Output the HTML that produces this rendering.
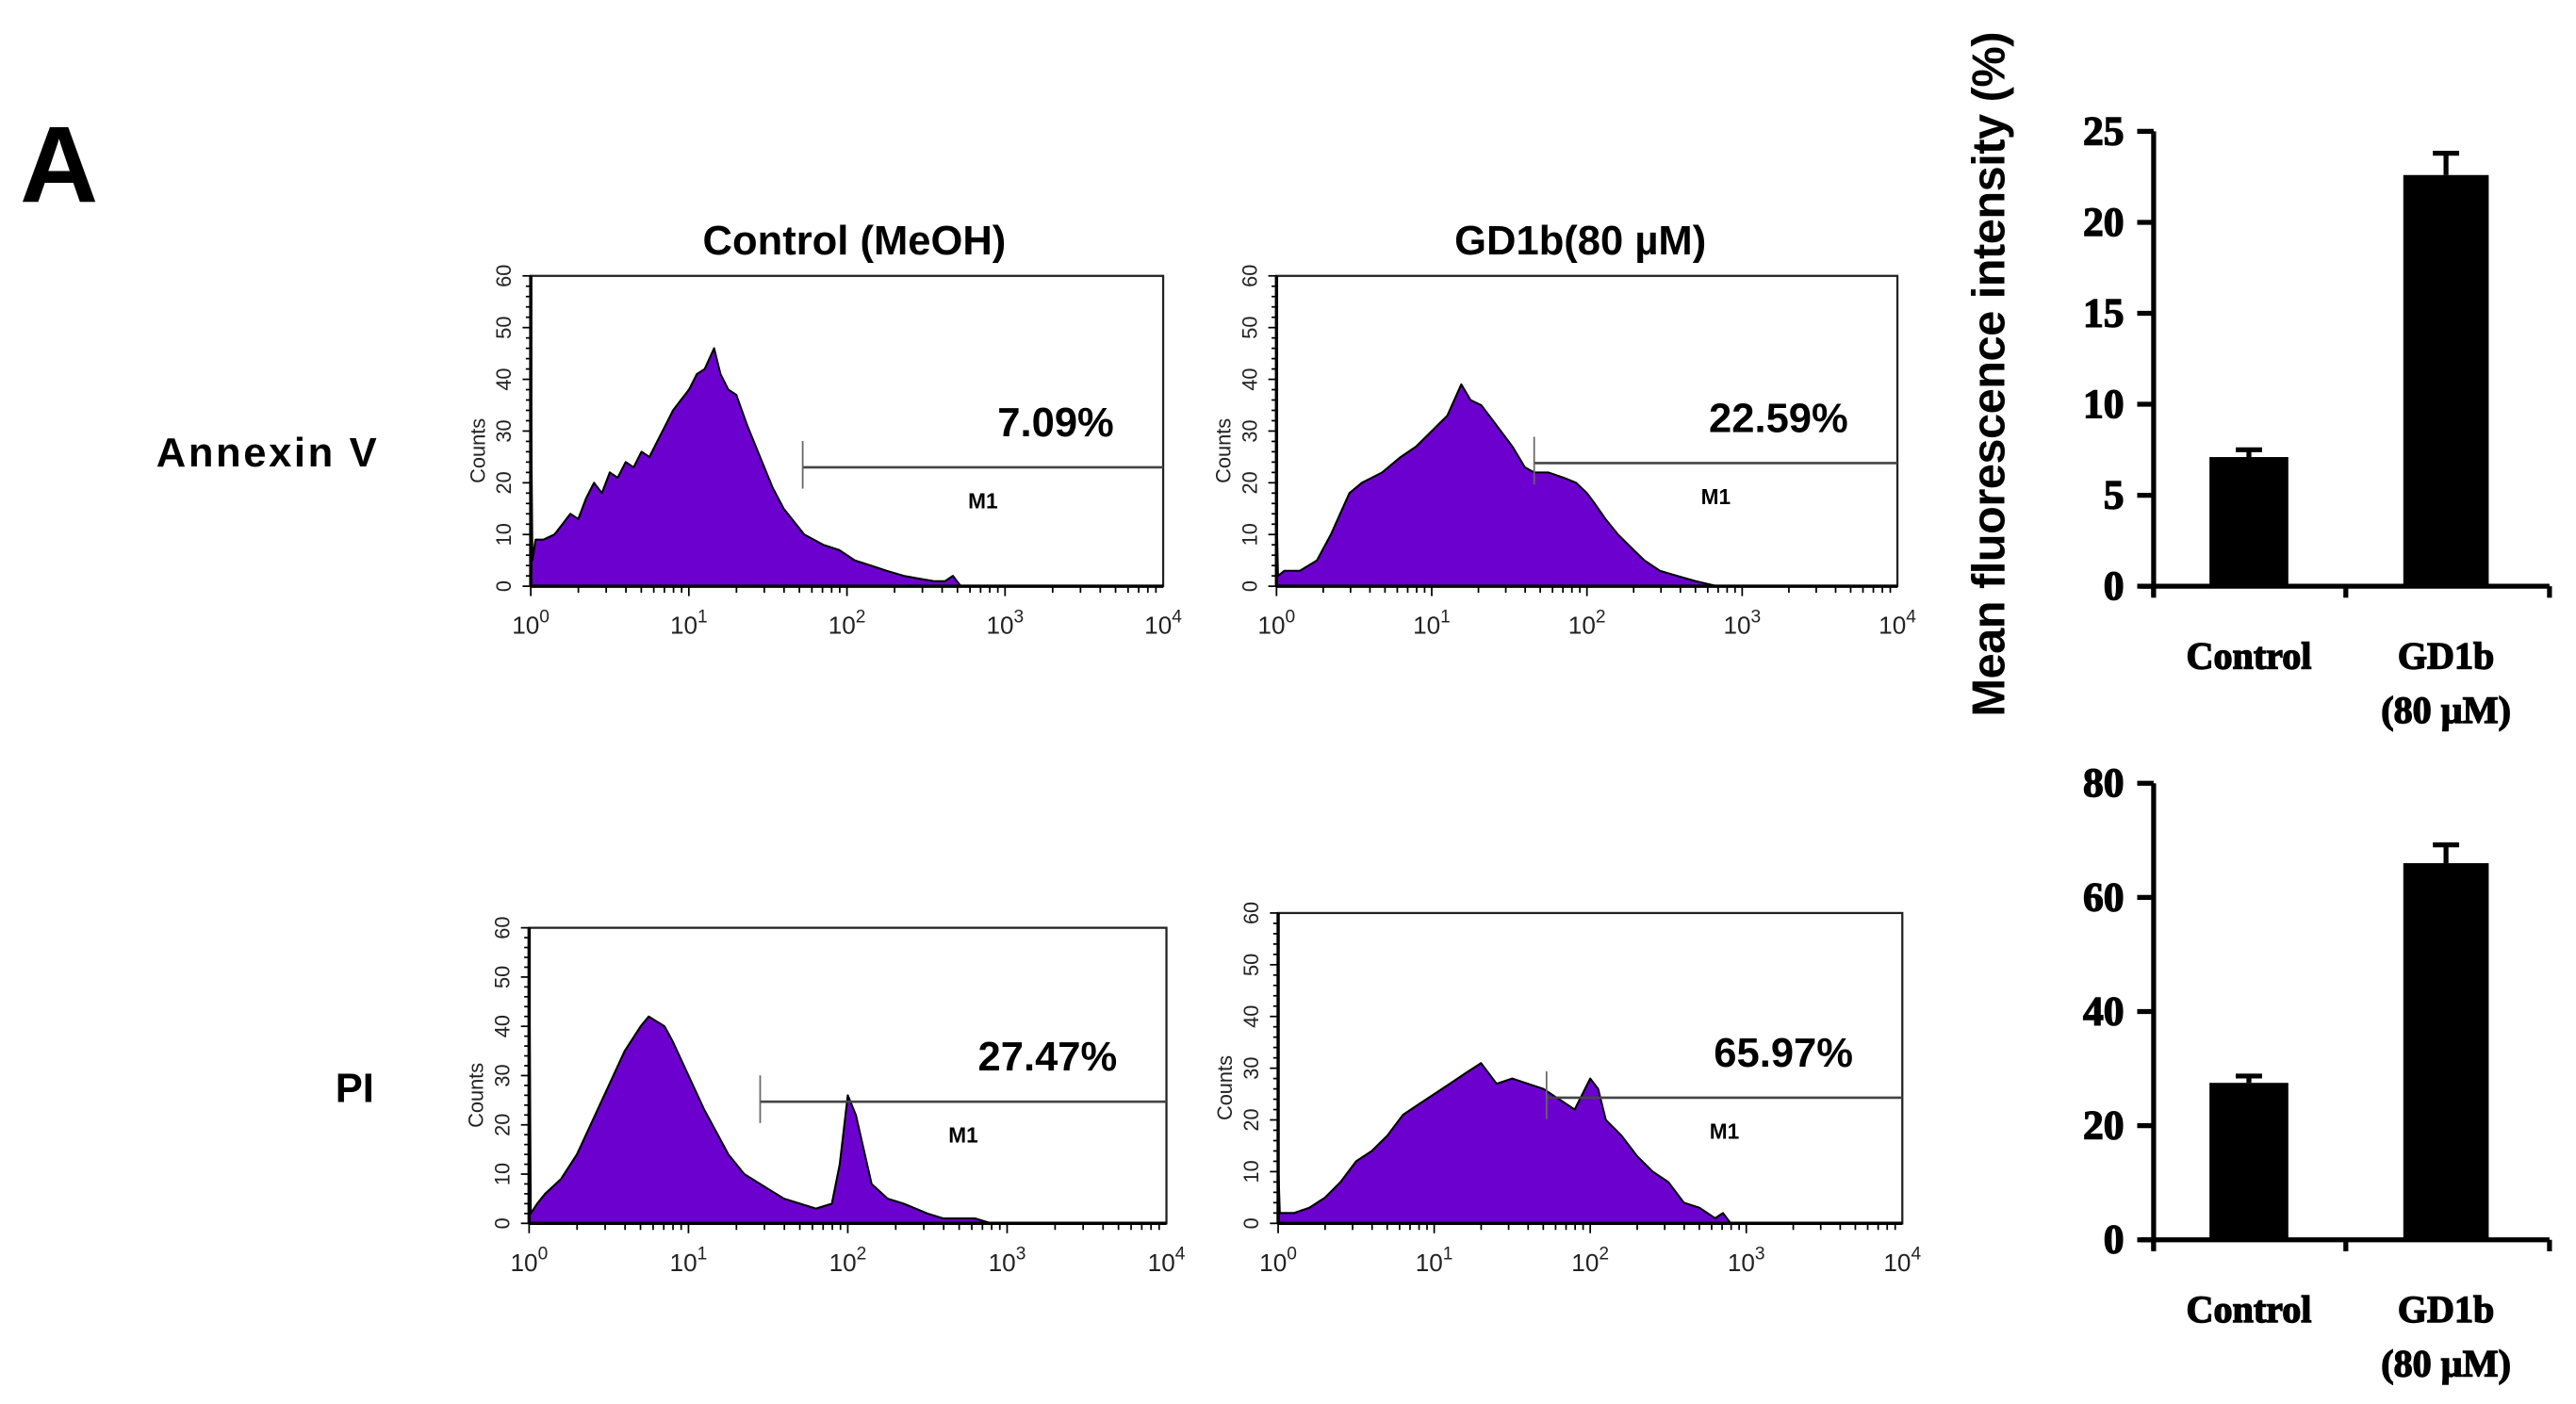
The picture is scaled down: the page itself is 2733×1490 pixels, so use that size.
<!DOCTYPE html>
<html><head><meta charset="utf-8"><style>
html,body{margin:0;padding:0;background:#fff;}
svg{display:block;}
</style></head><body>
<svg id="fig" xmlns="http://www.w3.org/2000/svg" width="2733" height="1490" viewBox="0 0 1568 855">
<text x="12" y="123" font-family="Liberation Sans, sans-serif" font-weight="bold" font-size="66">A</text>
<text x="520" y="155" text-anchor="middle" font-family="Liberation Sans, sans-serif" font-weight="bold" font-size="25">Control  (MeOH)</text>
<text x="962" y="155" text-anchor="middle" font-family="Liberation Sans, sans-serif" font-weight="bold" font-size="25">GD1b(80 µM)</text>
<text x="95" y="284" font-family="Liberation Sans, sans-serif" font-weight="bold" font-size="25" letter-spacing="1.5">Annexin  V</text>
<text x="204" y="671" font-family="Liberation Sans, sans-serif" font-weight="bold" font-size="25">PI</text>
<g id="plots"></g>
</svg>
<script>
// ---- Histogram data (log10 fluorescence, counts) ----
const annexCtrlX = [0,0.01,0.03,0.08,0.15,0.2,0.25,0.3,0.35,0.4,0.45,0.5,0.55,0.6,0.65,0.7,0.75,0.8,0.85,0.9,0.95,1.0,1.05,1.1,1.16,1.2,1.25,1.3,1.37,1.45,1.53,1.6,1.73,1.85,1.95,2.05,2.15,2.25,2.36,2.45,2.55,2.62,2.67,2.72,2.8];
const annexCtrlY = [40,5,9,9,10,12,14,13,17,20,18,22,21,24,23,26,25,28,31,34,36,38,41,42,46,41,38,37,31,25,19,15,10,8,7,5,4,3,2,1.5,1,1,2,0,0];
const annexGdX = [0,0.01,0.05,0.15,0.26,0.35,0.47,0.55,0.68,0.8,0.9,1.0,1.1,1.19,1.25,1.32,1.42,1.52,1.6,1.66,1.75,1.85,1.93,2.0,2.05,2.12,2.2,2.3,2.37,2.47,2.58,2.7,2.84,2.9];
const annexGdY = [15,2,3,3,5,10,18,20,22,25,27,30,33,39,36,35,31,27,23,22,22,21,20,18,16,13,10,7,5,3,2,1,0,0];
const piCtrlX = [0,0.01,0.05,0.1,0.2,0.3,0.4,0.5,0.6,0.7,0.75,0.8,0.85,0.9,1.0,1.1,1.15,1.25,1.35,1.5,1.6,1.7,1.8,1.9,1.95,2.0,2.05,2.1,2.15,2.25,2.35,2.5,2.6,2.7,2.8,2.9];
const piCtrlY = [60,2,4,6,9,14,21,28,35,40,42,41,40,37,30,23,20,14,10,7,5,4,3,4,12,26,22,15,8,5,4,2,1,1,1,0];
const piGdX = [0,0.01,0.1,0.2,0.3,0.4,0.5,0.6,0.7,0.8,0.9,1.0,1.1,1.2,1.3,1.4,1.5,1.6,1.7,1.8,1.9,2.0,2.05,2.1,2.2,2.3,2.4,2.5,2.6,2.7,2.8,2.85,2.9];
const piGdY = [12,2,2,3,5,8,12,14,17,21,23,25,27,29,31,27,28,27,26,24,22,28,26,20,17,13,10,8,4,3,1,2,0];
// Gate percentages
const gateLabels = ["7.09%","22.59%","27.47%","65.97%"];
const gateStarts = [1.72,1.66,1.45,1.72];
const gateLevels = [23,23.8,24.7,24.3];
// ---- Bar chart data ----
const barCategories = ["Control","GD1b"];
const annexBarValues = [7.1,22.6];
const annexBarErrors = [0.4,1.2];
const annexBarTicks = [0,5,10,15,20,25];
const piBarValues = [27.5,66];
const piBarErrors = [1.2,3.2];
const piBarTicks = [0,20,40,60,80];

const NS="http://www.w3.org/2000/svg";
const root=document.getElementById('plots');
function el(tag,attrs,parent){const e=document.createElementNS(NS,tag);for(const k in attrs)e.setAttribute(k,attrs[k]);(parent||root).appendChild(e);return e;}

function drawHist(box,xs,ys,gi,name){
  const g=el('g',{});
  
  
  const sx=v=>box.x0+(v/4)*(box.x1-box.x0);
  const sy=v=>box.y1-(v/60)*(box.y1-box.y0);
  const r=el('rect',{x:box.x0,y:box.y0,width:box.x1-box.x0,height:box.y1-box.y0,fill:'none',stroke:'#222','stroke-width':1.3},g);
  
  
  let d='M'+sx(xs[0])+','+sy(0);
  for(let i=0;i<xs.length;i++)d+=' L'+sx(xs[i]).toFixed(1)+','+sy(ys[i]).toFixed(1);
  d+=' L'+sx(xs[xs.length-1])+','+sy(0)+' Z';
  const p=el('path',{d:d,fill:'#6c00cf',stroke:'#000','stroke-width':1.2,'stroke-linejoin':'round'},g);
  
  
  el('line',{x1:box.x0,x2:box.x0,y1:box.y0,y2:box.y1,stroke:'#000','stroke-width':2},g);
  el('line',{x1:box.x0,x2:box.x1,y1:box.y1,y2:box.y1,stroke:'#000','stroke-width':2},g);
  for(let v=0;v<=60;v+=2){
    const major=v%10===0;
    el('line',{x1:box.x0-(major?5:3),x2:box.x0,y1:sy(v),y2:sy(v),stroke:'#000','stroke-width':1},g);
    if(major){
      const t=el('text',{x:0,y:0,transform:`translate(${box.x0-12},${sy(v)}) rotate(-90)`,'text-anchor':'middle','font-family':'Liberation Sans, sans-serif','font-size':12.5,fill:'#222'},g);
      t.textContent=v;
      
      
    }
  }
  const c=el('text',{transform:`translate(${box.x0-28},${(box.y0+box.y1)/2+12}) rotate(-90)`,'text-anchor':'middle','font-family':'Liberation Sans, sans-serif','font-size':12.5,fill:'#222'},g);
  c.textContent='Counts';
  
  
  for(let dec=0;dec<4;dec++){
    for(let m=1;m<10;m++){
      const lx=dec+Math.log10(m);
      el('line',{x1:sx(lx),x2:sx(lx),y1:box.y1,y2:box.y1+(m===1?6:4),stroke:'#000','stroke-width':1},g);
    }
  }
  for(let dec=0;dec<=4;dec++){
    const t=el('text',{x:sx(dec),y:box.y1+29,'text-anchor':'middle','font-family':'Liberation Sans, sans-serif','font-size':15,fill:'#222'},g);
    t.innerHTML='10<tspan dy="-7" font-size="11">'+dec+'</tspan>';
    
    
  }
  const gx=sx(gateStarts[gi]),gy=sy(gateLevels[gi]);
  el('line',{x1:gx,x2:box.x1,y1:gy,y2:gy,stroke:'#444','stroke-width':1.5},g);
  el('line',{x1:gx,x2:gx,y1:gy-16,y2:gy+13,stroke:'#666','stroke-width':1},g);
  const m=el('text',{x:(gx+box.x1)/2,y:gy+25,'text-anchor':'middle','font-family':'Liberation Sans, sans-serif','font-weight':'bold','font-size':13},g);
  m.textContent='M1';
  
  
  const pt=el('text',{x:box.x1-30,y:gy-19,'text-anchor':'end','font-family':'Liberation Sans, sans-serif','font-weight':'bold','font-size':25},g);
  pt.textContent=gateLabels[gi];
  
  
}
drawHist({x0:323,x1:708,y0:168,y1:357},annexCtrlX,annexCtrlY,0,'annexin-control-histogram');
drawHist({x0:777,x1:1155,y0:168,y1:357},annexGdX,annexGdY,1,'annexin-gd1b-histogram');
drawHist({x0:322,x1:710,y0:565,y1:745},piCtrlX,piCtrlY,2,'pi-control-histogram');
drawHist({x0:778,x1:1158,y0:556,y1:745},piGdX,piGdY,3,'pi-gd1b-histogram');

function drawBars(ax,vals,errs,ticks,name){
  const g=el('g',{});
  
  
  const maxT=ticks[ticks.length-1];
  const sy=v=>ax.y1-(v/maxT)*(ax.y1-ax.y0);
  el('line',{x1:ax.x,x2:ax.x,y1:ax.y0,y2:ax.y1+6,stroke:'#000','stroke-width':3},g);
  el('line',{x1:ax.x-8,x2:1552,y1:ax.y1,y2:ax.y1,stroke:'#000','stroke-width':3},g);
  [ax.x,1428,1552].forEach(x=>el('line',{x1:x,x2:x,y1:ax.y1,y2:ax.y1+7,stroke:'#000','stroke-width':3},g));
  ticks.forEach(v=>{
    el('line',{x1:ax.x-10,x2:ax.x,y1:sy(v),y2:sy(v),stroke:'#000','stroke-width':3},g);
    const t=el('text',{x:ax.x-18,y:sy(v)+8,'text-anchor':'end','font-family':'Liberation Serif, serif','font-weight':'bold','font-size':25,stroke:'#000','stroke-width':0.8},g);
    t.textContent=v;
    
    
  });
  const centers=[1369,1489],widths=[48,52];
  vals.forEach((v,i)=>{
    const b=el('rect',{x:centers[i]-widths[i]/2,y:sy(v),width:widths[i],height:ax.y1-sy(v),fill:'#000'},g);
    
    
    const top=sy(v+errs[i]);
    el('line',{x1:centers[i],x2:centers[i],y1:top,y2:sy(v),stroke:'#000','stroke-width':3},g);
    el('line',{x1:centers[i]-8,x2:centers[i]+8,y1:top,y2:top,stroke:'#000','stroke-width':3},g);
  });
  const l1=el('text',{x:centers[0],y:ax.y1+50,'text-anchor':'middle','font-family':'Liberation Serif, serif','font-weight':'bold','font-size':23,stroke:'#000','stroke-width':0.8},g);
  l1.textContent=barCategories[0];
  
  
  const l2=el('text',{x:centers[1],y:ax.y1+50,'text-anchor':'middle','font-family':'Liberation Serif, serif','font-weight':'bold','font-size':23,stroke:'#000','stroke-width':0.8},g);
  l2.textContent=barCategories[1];
  
  
  const l3=el('text',{x:centers[1],y:ax.y1+83,'text-anchor':'middle','font-family':'Liberation Serif, serif','font-weight':'bold','font-size':23,stroke:'#000','stroke-width':0.8},g);
  l3.textContent='(80 µM)';
  
  
}
drawBars({x:1311,y0:80,y1:357},annexBarValues,annexBarErrors,annexBarTicks,'annexin-bar-chart');
drawBars({x:1311,y0:477,y1:755},piBarValues,piBarErrors,piBarTicks,'pi-bar-chart');
const yt=el('text',{transform:'translate(1220,228) rotate(-90)','text-anchor':'middle','font-family':'Liberation Sans, sans-serif','font-weight':'bold','font-size':28,'letter-spacing':'-0.3'});
yt.textContent='Mean fluorescence intensity (%)';


</script>
</body></html>
